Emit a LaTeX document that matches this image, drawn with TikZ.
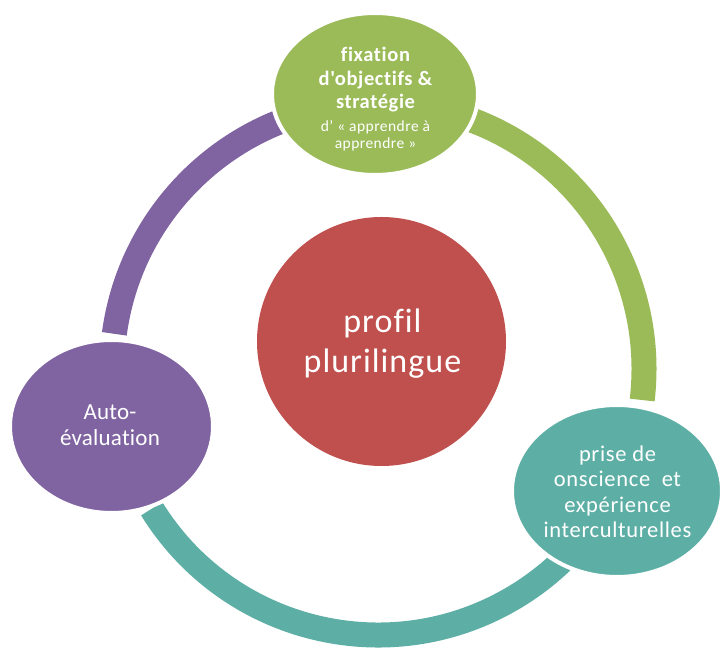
\documentclass[tikz,border=0pt]{standalone}
\usepackage{fontspec}
\setmainfont{Carlito}[Ligatures={NoCommon,TeXOff}, LetterSpace=3]
\newfontfamily\purplefont{Carlito}[Ligatures={NoCommon,TeXOff}, LetterSpace=1]
\usetikzlibrary{shapes.geometric}
\definecolor{cred}{HTML}{C0504D}
\definecolor{cgreen}{HTML}{9BBB59}
\definecolor{cpurple}{HTML}{8064A2}
\definecolor{cteal}{HTML}{5DAFA5}
\tikzset{
  ring/.style={line width=25pt, line cap=butt},
  blob/.style={ellipse, draw=white, line width=4pt, inner sep=0pt},
  lbl/.style={text=white, align=center, inner sep=0pt},
}
\begin{document}
\begin{tikzpicture}[x=1pt,y=1pt]
\useasboundingbox (0,0) rectangle (724,648);
\coordinate (C) at (378,279);
% ring arcs
\draw[ring, cpurple] (C) ++(172.4:266pt) arc[start angle=172.4, end angle=105, radius=266pt];
\draw[ring, cgreen] (C) ++(75:266pt) arc[start angle=75, end angle=-6.7, radius=266pt];
\draw[ring, cteal] (C) ++(211.7:266pt) arc[start angle=211.7, end angle=330, radius=266pt];
% central circle
\node[circle, fill=cred, minimum size=249pt, inner sep=0pt] (center) at (381.5,306.5) {};
\node[lbl, font=\fontsize{34}{40}\selectfont] (centertxt) at (382.5,304) {profil\\plurilingue};
% green
\node[blob, fill=cgreen, minimum width=206pt, minimum height=162pt] (top) at (375,554) {};
\node[lbl, font=\fontsize{20.5}{23.5}\selectfont\bfseries] (toptxt) at (375.5,568) {fixation\\d'objectifs \&\\strat\'egie};
\node[lbl, font=\fontsize{15.5}{17}\selectfont] (topsub) at (375.5,512) {d’ « apprendre à\\apprendre »};
% purple
\node[blob, fill=cpurple, minimum width=203pt, minimum height=173pt] (left) at (111.5,221.5) {};
\node[lbl, font=\purplefont\fontsize{23}{26}\selectfont] (lefttxt) at (110,223) {Auto-\\évaluation};
% teal
\node[blob, fill=cteal, minimum width=210pt, minimum height=172pt] (right) at (617,157) {};
\node[lbl, font=\fontsize{22.5}{25.5}\selectfont] (righttxt) at (617.5,156) {prise de\\onscience~ et\\expérience\\interculturelles};
\end{tikzpicture}
\end{document}
